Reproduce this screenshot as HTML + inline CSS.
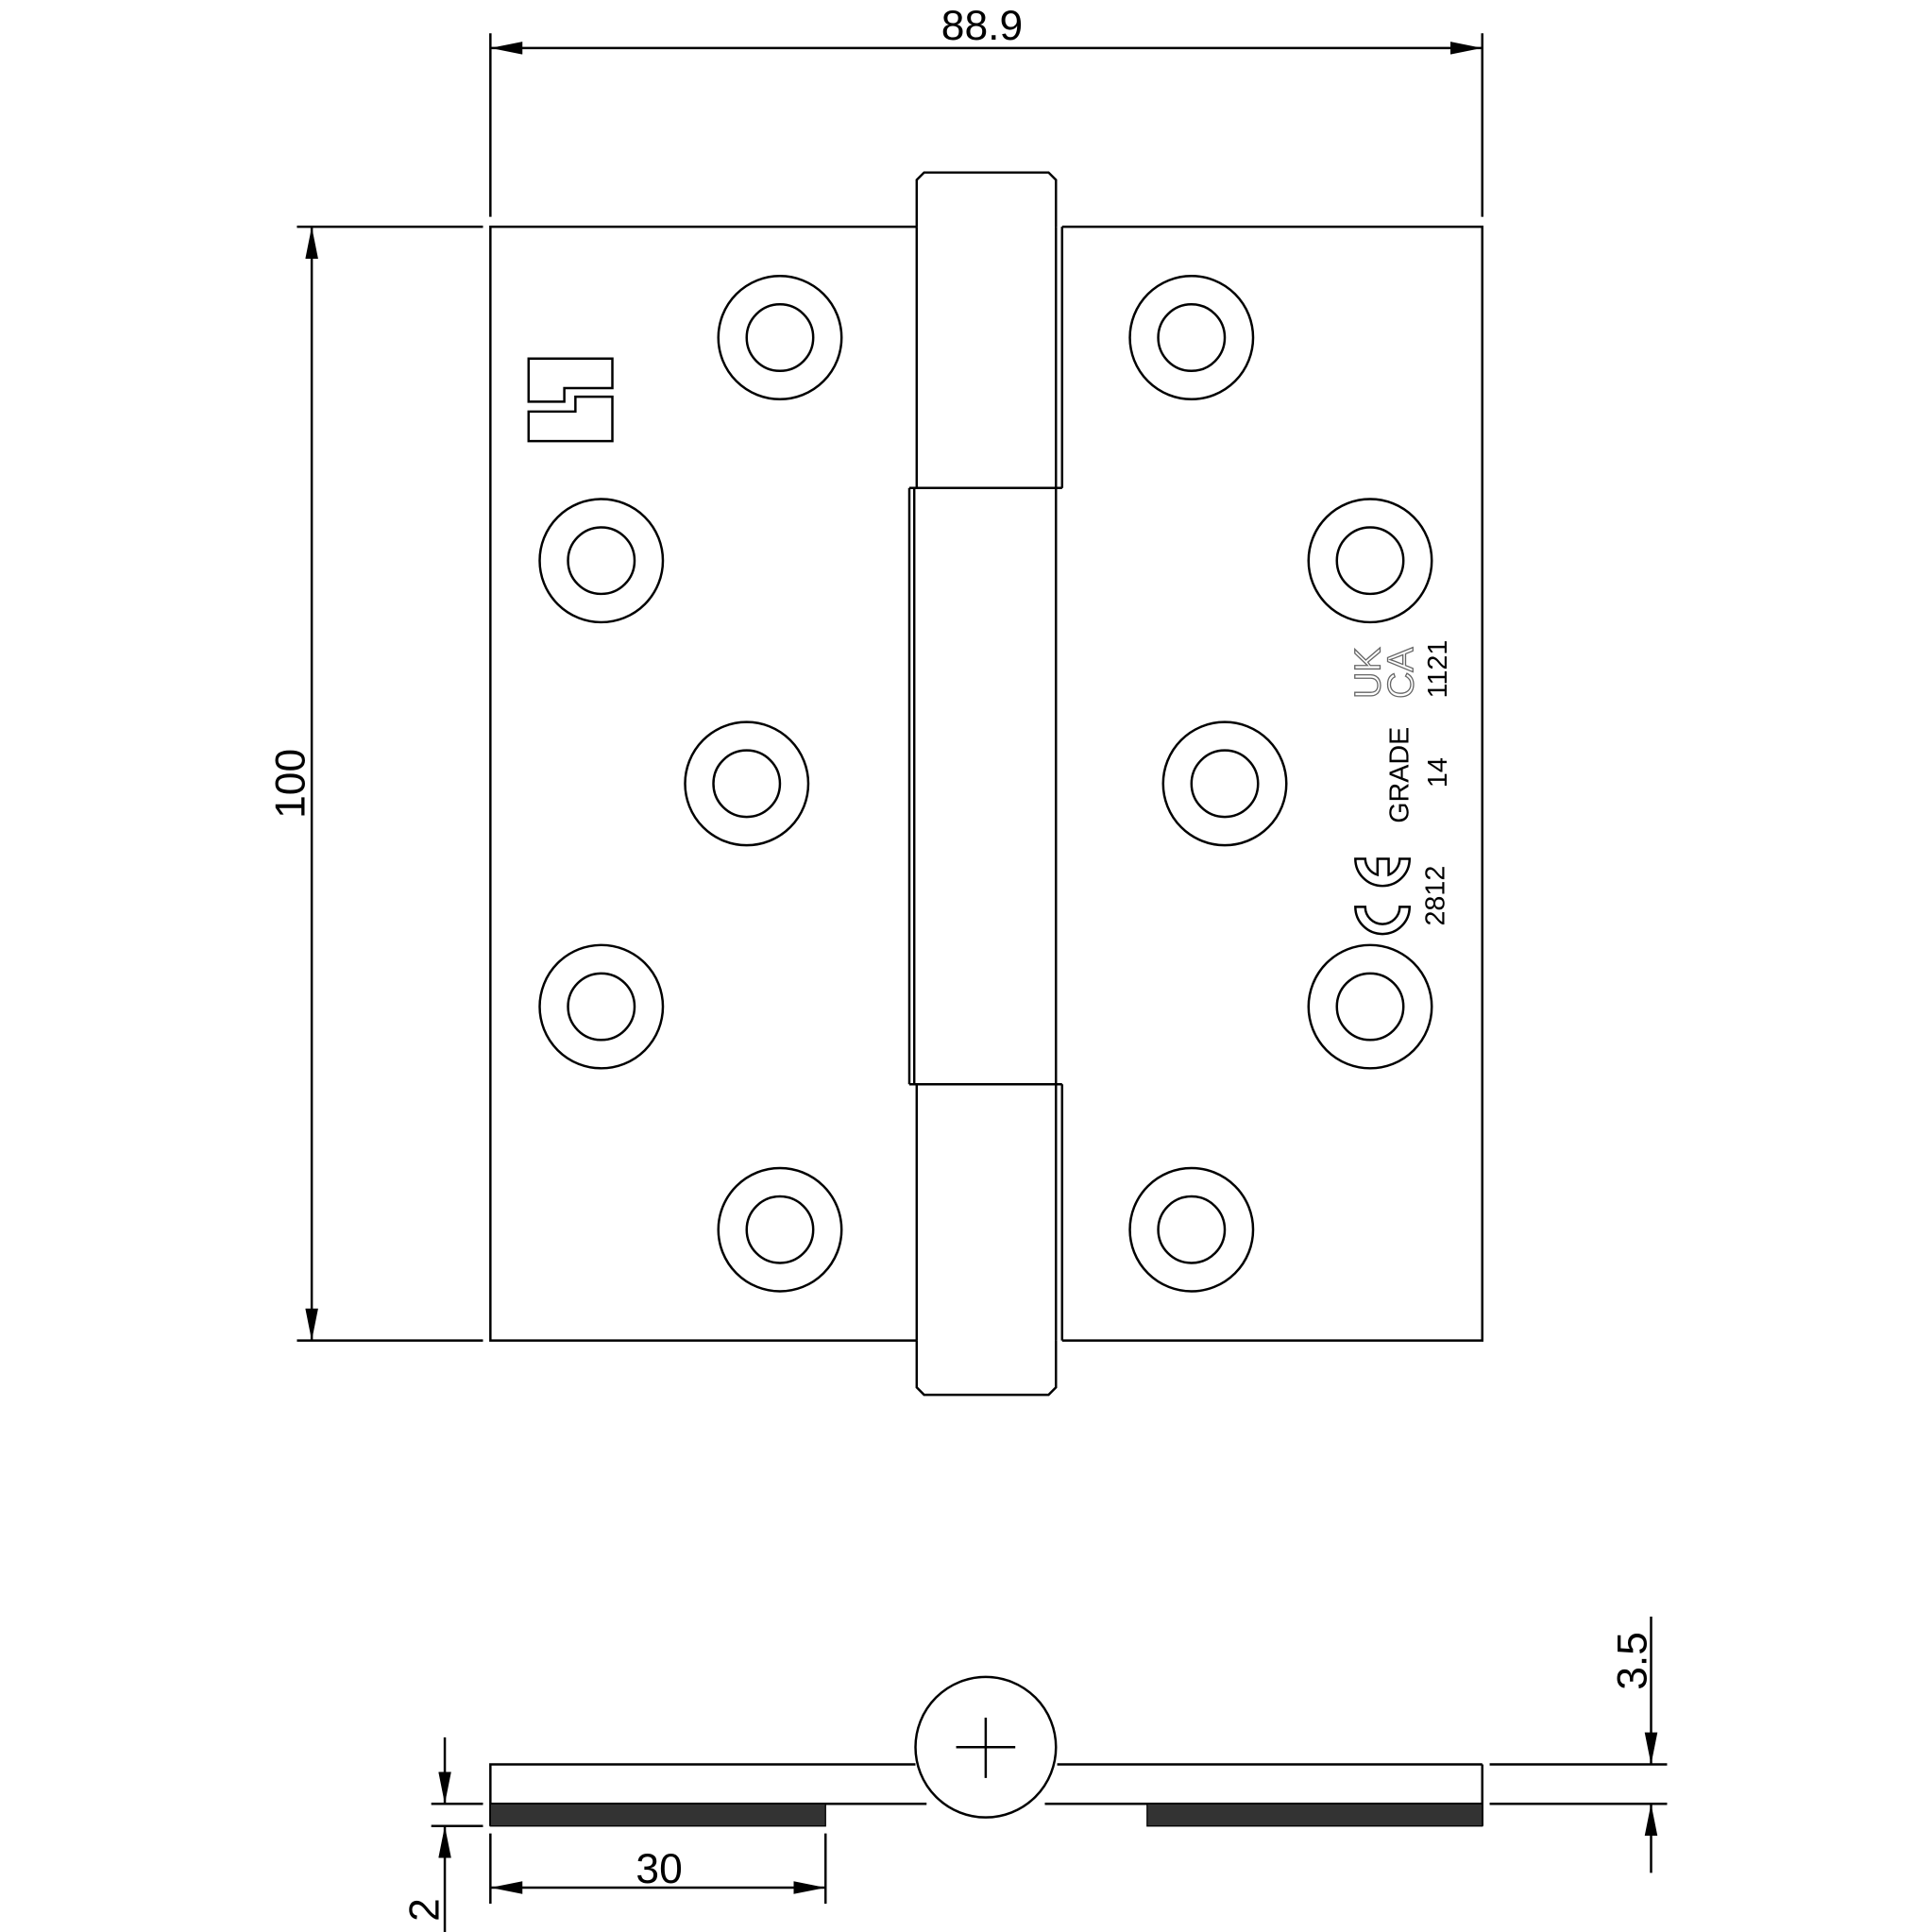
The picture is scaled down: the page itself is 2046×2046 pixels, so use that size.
<!DOCTYPE html>
<html><head><meta charset="utf-8"><style>
html,body{margin:0;padding:0;background:#fff}
svg{display:block}
text{font-family:"Liberation Sans",sans-serif;fill:#000}
</style></head><body>
<svg width="2046" height="2046" viewBox="0 0 1568 1568" xmlns="http://www.w3.org/2000/svg">
<defs>
<marker id="a" viewBox="0 0 10 4" refX="10" refY="2" markerWidth="26" markerHeight="10.4" markerUnits="userSpaceOnUse" orient="auto-start-reverse"><path d="M0,0 L10,2 L0,4 Z" fill="#000"/></marker>
</defs>
<g fill="none" stroke="#000" stroke-width="1.9">
<line x1="398" y1="27" x2="398" y2="176"/>
<line x1="1203" y1="27" x2="1203" y2="176"/>
<line x1="398" y1="39" x2="1203" y2="39" marker-start="url(#a)" marker-end="url(#a)"/>
<line x1="241" y1="184" x2="392" y2="184"/>
<line x1="241" y1="1088" x2="392" y2="1088"/>
<line x1="253" y1="184" x2="253" y2="1088" marker-start="url(#a)" marker-end="url(#a)"/>
<polyline points="744,184 398,184 398,1088 744,1088"/>
<polyline points="862,184 1203,184 1203,1088 862,1088"/>
<path d="M744,184 L744,146 L750,140 L851,140 L857,146 L857,184"/>
<path d="M744,1088 L744,1126 L750,1132 L851,1132 L857,1126 L857,1088"/>
<line x1="744" y1="184" x2="744" y2="396"/>
<line x1="857" y1="184" x2="857" y2="396"/>
<line x1="862" y1="184" x2="862" y2="396"/>
<line x1="738" y1="396" x2="862" y2="396"/>
<line x1="738" y1="396" x2="738" y2="880"/>
<line x1="742" y1="396" x2="742" y2="880"/>
<line x1="857" y1="396" x2="857" y2="880"/>
<line x1="738" y1="880" x2="862" y2="880"/>
<line x1="744" y1="880" x2="744" y2="1088"/>
<line x1="857" y1="880" x2="857" y2="1088"/>
<line x1="862" y1="880" x2="862" y2="1088"/>
<g>
<circle cx="633" cy="274" r="50"/><circle cx="633" cy="274" r="27"/>
<circle cx="967" cy="274" r="50"/><circle cx="967" cy="274" r="27"/>
<circle cx="488" cy="455" r="50"/><circle cx="488" cy="455" r="27"/>
<circle cx="1112" cy="455" r="50"/><circle cx="1112" cy="455" r="27"/>
<circle cx="606" cy="636" r="50"/><circle cx="606" cy="636" r="27"/>
<circle cx="994" cy="636" r="50"/><circle cx="994" cy="636" r="27"/>
<circle cx="488" cy="817" r="50"/><circle cx="488" cy="817" r="27"/>
<circle cx="1112" cy="817" r="50"/><circle cx="1112" cy="817" r="27"/>
<circle cx="633" cy="998" r="50"/><circle cx="633" cy="998" r="27"/>
<circle cx="967" cy="998" r="50"/><circle cx="967" cy="998" r="27"/>
</g>
<path d="M429,291 L497,291 L497,315 L458,315 L458,326 L429,326 Z"/>
<path d="M429,334 L467,334 L467,322 L497,322 L497,358 L429,358 Z"/>
<path d="M1100,736 A22,22 0 0 0 1144,736 L1136,736 A14,14 0 0 1 1108,736 Z"/>
<path d="M1100,697 A22,22 0 0 0 1144,697 L1136,697 A14,14 0 0 1 1127,710 L1127,697 L1118,697 L1118,710 A14,14 0 0 1 1108,697 Z"/>
<polyline points="743,1432 398,1432 398,1482"/>
<line x1="858" y1="1432" x2="1203" y2="1432"/>
<line x1="1203" y1="1432" x2="1203" y2="1482"/>
<line x1="398" y1="1464" x2="752" y2="1464"/>
<line x1="848" y1="1464" x2="1203" y2="1464"/>
<circle cx="800" cy="1418" r="57" fill="#fff"/>
<line x1="776" y1="1418" x2="824" y2="1418"/>
<line x1="800" y1="1394" x2="800" y2="1443"/>
<line x1="1209" y1="1432" x2="1353" y2="1432"/>
<line x1="1209" y1="1464" x2="1353" y2="1464"/>
<line x1="1340" y1="1312" x2="1340" y2="1432" marker-end="url(#a)"/>
<line x1="1340" y1="1520" x2="1340" y2="1464" marker-end="url(#a)"/>
<line x1="350" y1="1464" x2="392" y2="1464"/>
<line x1="350" y1="1482" x2="392" y2="1482"/>
<line x1="361" y1="1410" x2="361" y2="1464" marker-end="url(#a)"/>
<line x1="361" y1="1568" x2="361" y2="1482" marker-end="url(#a)"/>
<line x1="398" y1="1488" x2="398" y2="1545"/>
<line x1="670" y1="1488" x2="670" y2="1545"/>
<line x1="398" y1="1532" x2="670" y2="1532" marker-start="url(#a)" marker-end="url(#a)"/>
</g>
<rect x="398" y="1464" width="272" height="18" fill="#333" stroke="#000" stroke-width="1"/>
<rect x="931" y="1464" width="272" height="18" fill="#333" stroke="#000" stroke-width="1"/>
<text x="0" y="0" transform="translate(1120,567) rotate(-90)" font-size="30" stroke="#666" stroke-width="1" style="fill:none">UK</text>
<text x="0" y="0" transform="translate(1147,567) rotate(-90)" font-size="30" stroke="#666" stroke-width="1" style="fill:none">CA</text>
<g font-size="34">
<text x="797" y="32" text-anchor="middle">88.9</text>
<text transform="translate(247,636) rotate(-90)" text-anchor="middle">100</text>
<text x="535" y="1528" text-anchor="middle">30</text>
<text transform="translate(1336,1348) rotate(-90)" text-anchor="middle">3.5</text>
<text transform="translate(356,1550) rotate(-90)" text-anchor="middle">2</text>
</g>
<g font-size="22">
<text transform="translate(1174,543) rotate(-90)" text-anchor="middle">1121</text>
<text transform="translate(1143,629) rotate(-90)" text-anchor="middle">GRADE</text>
<text transform="translate(1174,627) rotate(-90)" text-anchor="middle">14</text>
<text transform="translate(1172,727) rotate(-90)" text-anchor="middle">2812</text>
</g>
</svg>
</body></html>
